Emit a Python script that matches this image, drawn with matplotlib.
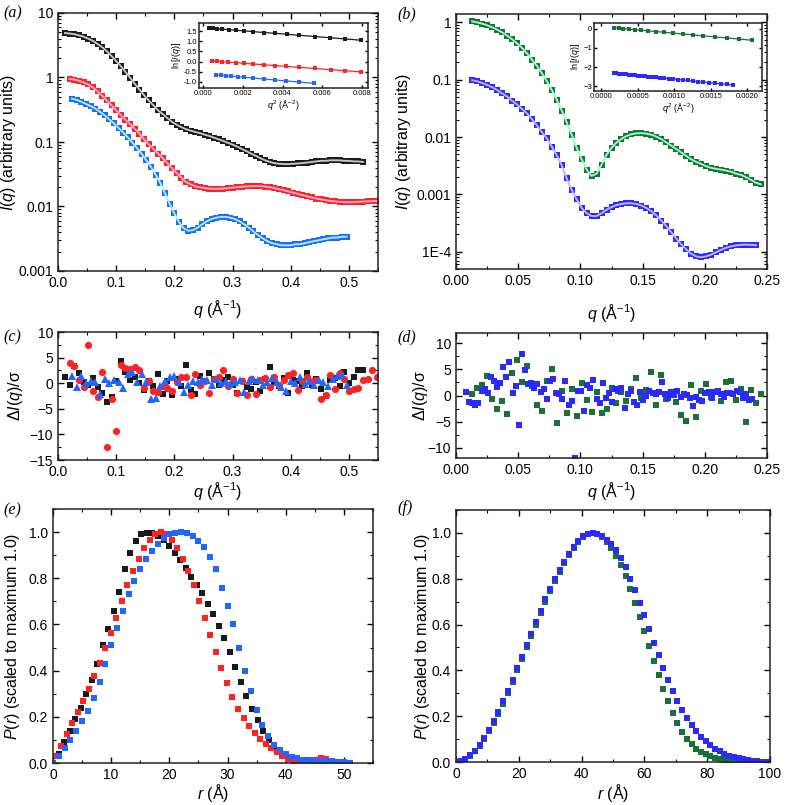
import matplotlib
matplotlib.use('Agg')  # no display
import matplotlib.pyplot as plt
from matplotlib.ticker import FixedLocator, FixedFormatter, MultipleLocator, FormatStrFormatter
import numpy as np

plt.rcParams['font.family'] = ['Liberation Sans', 'DejaVu Sans']
plt.rcParams['mathtext.fontset'] = 'custom'
plt.rcParams['mathtext.rm'] = 'Liberation Sans'
plt.rcParams['mathtext.it'] = 'Liberation Sans:italic'

# ---------------- data ----------------
# (a) scattering curves, q grid start / step (1/A)
qa_black0, qa_red0, qa_blue0, qa_step = 0.012, 0.020, 0.024, 0.008
Ia_black = [4.9, 4.8, 4.7, 4.5, 4.3, 4.0, 3.7, 3.3, 2.95, 2.55, 2.15, 1.8, 1.5, 1.22, 0.99,
            0.80, 0.65, 0.53, 0.44, 0.37, 0.31, 0.27, 0.235, 0.205, 0.185, 0.17, 0.158, 0.15,
            0.143, 0.137, 0.13, 0.124, 0.117, 0.11, 0.104, 0.097, 0.091, 0.085, 0.078, 0.072,
            0.066, 0.061, 0.056, 0.052, 0.049, 0.047, 0.046, 0.0455, 0.0455, 0.046, 0.0465,
            0.047, 0.048, 0.049, 0.050, 0.051, 0.051, 0.052, 0.052, 0.052, 0.051, 0.051, 0.050,
            0.050, 0.049]
Ia_red = [0.95, 0.93, 0.89, 0.84, 0.78, 0.70, 0.61, 0.52, 0.44, 0.37, 0.31, 0.26, 0.22, 0.19,
          0.16, 0.135, 0.11, 0.092, 0.078, 0.066, 0.056, 0.047, 0.039, 0.033, 0.028, 0.024,
          0.022, 0.0205, 0.0198, 0.0193, 0.0189, 0.0188, 0.0188, 0.019, 0.0193, 0.0196, 0.0199,
          0.0202, 0.0205, 0.0207, 0.0208, 0.0207, 0.0204, 0.0199, 0.0193, 0.0186, 0.0179,
          0.0171, 0.0164, 0.0157, 0.015, 0.0144, 0.0138, 0.0133, 0.0129, 0.0125, 0.0122, 0.012,
          0.0118, 0.0117, 0.0117, 0.0117, 0.0118, 0.0119, 0.012, 0.0121, 0.0122]
Ia_blue = [0.47, 0.45, 0.42, 0.39, 0.36, 0.33, 0.295, 0.26, 0.225, 0.195, 0.165, 0.14, 0.118,
           0.098, 0.08, 0.065, 0.052, 0.041, 0.031, 0.023, 0.016, 0.011, 0.0078, 0.0057, 0.0046,
           0.0042, 0.0043, 0.0047, 0.0053, 0.0059, 0.0064, 0.0067, 0.0069, 0.0069, 0.0067,
           0.0064, 0.0059, 0.0053, 0.0047, 0.0041, 0.0036, 0.0032, 0.0029, 0.0027, 0.0026,
           0.0025, 0.0025, 0.0025, 0.0026, 0.0026, 0.0027, 0.0028, 0.0029, 0.003, 0.0031,
           0.0032, 0.0033, 0.0033, 0.0034, 0.0034]

# (a) inset: Guinier plots
ga_black_q2 = [0.00031, 0.00051, 0.00073, 0.00097, 0.00131, 0.00165, 0.00206, 0.00252, 0.00308,
               0.00364, 0.00422, 0.00485, 0.00562, 0.00638, 0.00715, 0.00797]
ga_black_ln = [1.65, 1.635, 1.615, 1.60, 1.57, 1.545, 1.51, 1.475, 1.43, 1.39, 1.345, 1.295,
               1.235, 1.175, 1.115, 1.05]
ga_red_q2 = [0.00046, 0.00071, 0.00097, 0.00128, 0.00165, 0.00204, 0.00252, 0.00308, 0.00363,
             0.0042, 0.00485, 0.00562, 0.00642, 0.00712, 0.00797]
ga_red_ln = [0.03, 0.012, -0.007, -0.029, -0.055, -0.083, -0.117, -0.157, -0.197, -0.238,
             -0.284, -0.339, -0.397, -0.447, -0.508]
ga_blue_q2 = [0.00063, 0.00089, 0.00114, 0.0014, 0.00174, 0.00208, 0.00252, 0.00308, 0.00363,
              0.0042, 0.00485, 0.00558]
ga_blue_ln = [-0.65, -0.672, -0.693, -0.715, -0.744, -0.773, -0.81, -0.858, -0.905, -0.953,
              -1.008, -1.07]

# (b) scattering curves
qb0, qb_step = 0.013, 0.004
Ib_green = [1.04, 1.0, 0.95, 0.89, 0.82, 0.75, 0.67, 0.59, 0.51, 0.43, 0.36, 0.29, 0.225, 0.175,
            0.13, 0.095, 0.066, 0.045, 0.029, 0.018, 0.011, 0.0065, 0.0041, 0.0027, 0.0021,
            0.0023, 0.0033, 0.0049, 0.0065, 0.008, 0.0093, 0.0104, 0.0112, 0.0116, 0.0117,
            0.0115, 0.011, 0.0102, 0.0092, 0.0081, 0.0071, 0.0062, 0.0054, 0.0047, 0.0041,
            0.0037, 0.0034, 0.0031, 0.0029, 0.0028, 0.0027, 0.0026, 0.0025, 0.0023, 0.0022,
            0.002, 0.0018, 0.0016, 0.0015]
Ib_blue = [0.098, 0.094, 0.088, 0.081, 0.074, 0.066, 0.058, 0.051, 0.043, 0.037, 0.031, 0.026,
           0.0205, 0.016, 0.0122, 0.0095, 0.0068, 0.0048, 0.0032, 0.0019, 0.0012, 0.00082,
           0.00058, 0.00047, 0.00042, 0.00042, 0.00047, 0.00054, 0.0006, 0.00065, 0.00068,
           0.0007, 0.0007, 0.00068, 0.00064, 0.00058, 0.00051, 0.00043, 0.00035, 0.00028,
           0.00022, 0.00017, 0.000135, 0.00011, 0.000092, 0.000083, 0.00008, 0.000083,
           0.000089, 0.000098, 0.000108, 0.000117, 0.000124, 0.000129, 0.000132, 0.000133,
           0.000132, 0.00013]

# (b) inset
gb_green_q2 = [0.00018, 0.000237, 0.000303, 0.000376, 0.000458, 0.000548, 0.000645, 0.000751,
               0.000864, 0.000986, 0.001116, 0.001253, 0.001399, 0.001552, 0.001714, 0.001884,
               0.002061]
gb_green_ln = [0.05, 0.03, 0.01, -0.02, -0.045, -0.078, -0.11, -0.148, -0.186, -0.228, -0.272,
               -0.32, -0.372, -0.424, -0.478, -0.538, -0.6]
gb_blue_q2 = [0.00018, 0.000207, 0.000237, 0.000269, 0.000303, 0.000339, 0.000376, 0.000416,
              0.000458, 0.000502, 0.000548, 0.000595, 0.000645, 0.000697, 0.000751, 0.000807,
              0.000864, 0.000924, 0.000986, 0.00105, 0.001116, 0.001183, 0.001253, 0.001325,
              0.001399, 0.001475, 0.001552, 0.001632, 0.001714, 0.001798]
gb_blue_ln = [-2.32, -2.33, -2.342, -2.354, -2.367, -2.38, -2.395, -2.41, -2.426, -2.442, -2.46,
              -2.478, -2.497, -2.516, -2.537, -2.558, -2.58, -2.603, -2.626, -2.651, -2.676,
              -2.701, -2.728, -2.755, -2.783, -2.812, -2.841, -2.872, -2.903, -2.935]

# (c) residuals for (a)
Rc_black = [1.3, -0.4, 3.3, 2.0, 0.2, -0.3, 1.0, -0.8, -1.9, -3.6, -2.6, 0.5, 4.4, 2.1, 0.6,
            1.2, 0.1, -1.3, 0.5, -0.6, 1.8, -2.2, 0.4, -2.4, 0.9, -0.5, 3.6, -1.4, -2.2, 1.5,
            0.4, 1.9, 0.8, -0.3, 0.6, 1.2, -0.4, -1.9, 0.5, -0.7, -1.1, 0.3, -1.6, 0.9, 3.1, 0.2,
            -0.5, 1.0, -2.0, 0.7, 0.4, -0.6, 2.0, -0.3, 0.9, -1.2, -2.5, 0.6, 1.1, -0.5, 2.2,
            0.1, 1.3, 2.5, 2.6]
Rc_red = [4.0, 3.4, 0.6, -0.8, 7.5, -1.5, -2.6, 2.1, -12.5, -3.0, -9.4, 3.5, 2.9, 2.7, 3.2,
          2.5, -1.0, 0.5, -1.5, -1.8, -0.6, -1.0, -1.5, 0.3, 1.3, 1.2, -2.3, 1.7, -0.3, 0.5,
          -1.9, 0.8, 1.2, 2.5, -0.5, 0.9, -1.9, 0.4, -2.3, 0.8, -2.2, 0.6, 1.0, -0.8, 1.2, -0.4,
          0.7, 1.6, 1.9, -1.3, 0.5, 1.3, 0.4, 0.7, -3.0, -2.4, 1.6, -1.1, 2.0, 0.9, -1.5, -1.2,
          -1.0, 0.6, 0.9, 2.6, 1.3]
Rc_blue = [1.5, -0.7, 1.4, 0.1, 0.4, 0.2, -2.1, 0.9, 0.0, 0.7, 0.3, -0.9, 1.8, 2.1, 0.3, 1.7,
           0.2, -3.1, -2.8, -0.5, 0.4, 1.2, 1.5, 0.3, -1.7, -0.4, 0.5, 0.2, 0.8, 0.6, -0.3, 0.9,
           0.1, 0.4, -0.2, 0.3, 0.7, -1.7, 0.5, 0.9, 0.6, -0.4, 0.2, 1.0, 0.3, -0.8, -1.6, 0.4,
           0.1, 1.3, -0.2, 0.5, -0.3, 0.6, 0.2, -0.5, 0.9, 1.5, 1.6, -0.4]

# (d) residuals for (b)
qd_blue0, qd_blue_step = 0.008, 0.0025
Rd_green = [0.3, 1.5, 2.1, 3.8, -0.6, -2.5, -1.0, -3.6, 4.3, 6.9, 2.5, 5.7, 1.8, -1.9, -3.0,
            2.8, 5.0, -5.3, 0.9, -3.4, 1.2, -4.0, 2.4, -0.9, -3.1, 0.6, -3.3, -2.5, 1.4, -1.5,
            0.6, -1.0, 1.2, 3.3, -0.4, 1.0, 4.6, -1.9, 3.9, -0.7, 0.4, -1.2, -3.8, -4.8, 2.0,
            -4.2, 0.9, 2.3, -0.3, 0.6, -1.0, 2.5, 2.8, -0.8, 1.3, -5.1, 1.0, -1.5, 0.3]
Rd_blue = [0.7, -1.3, -1.5, -1.8, -1.4, 0.8, 1.2, 0.4, 3.5, 2.8, 1.6, 2.4, 5.4, 3.6, 6.5, 0.5,
           1.8, -5.6, 8.0, 4.9, 2.3, 2.4, 1.5, 2.3, 0.6, 1.3, -0.6, 2.7, 3.2, 0.4, 0.2, -0.7,
           2.7, -1.8, -1.0, -12.0, 0.9, 0.8, -3.0, 2.0, 1.4, 2.9, -0.6, -1.5, 2.4, -0.4, 0.4,
           -1.2, 1.3, 0.8, 1.5, -2.4, 0.3, 0.9, -1.2, -1.9, 0.6, -0.9, 0.0, 0.9, 0.5, 0.2, 0.6,
           2.5, 0.2, -0.5, 0.7, 0.1, 0.8, -0.2, 0.3, 0.1, -0.5, -2.0, -0.2, -0.9, -1.0, 0.5,
           0.7, -0.4, 0.6, 0.8, 0.3, -0.3, 0.4, 0.5, 0.3, 0.9, 0.7, -0.5, 0.2, -0.8, -0.6]

# (e) P(r), r grid start / step (A)
re_black0, re_red0, re_blue0 = 0.0, 0.45, 0.0
re_step_br, re_step_blue = 0.95, 1.0
Pe_black = [0.0, 0.04, 0.09, 0.14, 0.19, 0.24, 0.30, 0.36, 0.43, 0.51, 0.58, 0.66, 0.74, 0.84,
            0.91, 0.96, 0.99, 0.998, 0.998, 0.985, 0.965, 0.94, 0.91, 0.88, 0.845, 0.805, 0.77,
            0.735, 0.69, 0.645, 0.595, 0.54, 0.48, 0.415, 0.35, 0.29, 0.235, 0.185, 0.14, 0.10,
            0.07, 0.048, 0.032, 0.02, 0.013, 0.009, 0.006, 0.005, 0.004, 0.003, 0.002, 0.001,
            0.0]
Pe_red = [0.03, 0.075, 0.125, 0.175, 0.22, 0.27, 0.32, 0.375, 0.435, 0.50, 0.565, 0.63, 0.70,
          0.77, 0.83, 0.885, 0.93, 0.965, 0.99, 1.0, 0.99, 0.965, 0.93, 0.885, 0.83, 0.77, 0.70,
          0.63, 0.555, 0.48, 0.41, 0.345, 0.285, 0.235, 0.195, 0.16, 0.13, 0.105, 0.083, 0.063,
          0.046, 0.031, 0.019, 0.01, 0.005, 0.004, 0.008, 0.015, 0.02, 0.018, 0.008]
Pe_blue = [0.0, 0.03, 0.065, 0.10, 0.14, 0.18, 0.225, 0.28, 0.35, 0.43, 0.51, 0.585, 0.66, 0.73,
           0.79, 0.84, 0.885, 0.92, 0.95, 0.975, 0.99, 0.998, 1.0, 0.998, 0.985, 0.96, 0.935,
           0.89, 0.84, 0.76, 0.68, 0.60, 0.50, 0.40, 0.31, 0.23, 0.165, 0.115, 0.08, 0.055,
           0.038, 0.027, 0.02, 0.015, 0.012, 0.01, 0.009, 0.008, 0.007, 0.006, 0.004, 0.002]

# (f) P(r)
rf_step = 1.5
Pf_green = [0.0, 0.004, 0.013, 0.027, 0.046, 0.07, 0.10, 0.135, 0.17, 0.21, 0.255, 0.30, 0.35,
            0.40, 0.45, 0.50, 0.55, 0.60, 0.65, 0.70, 0.745, 0.79, 0.83, 0.87, 0.905, 0.935,
            0.96, 0.98, 0.995, 1.0, 0.995, 0.98, 0.96, 0.935, 0.9, 0.86, 0.81, 0.755, 0.695,
            0.635, 0.57, 0.505, 0.44, 0.38, 0.32, 0.265, 0.215, 0.17, 0.13, 0.1, 0.077, 0.058,
            0.044, 0.033, 0.025, 0.018, 0.013, 0.009, 0.006, 0.004, 0.002, 0.001]
Pf_blue = [0.0, 0.005, 0.015, 0.03, 0.05, 0.075, 0.105, 0.14, 0.18, 0.22, 0.265, 0.31, 0.36,
           0.41, 0.46, 0.51, 0.56, 0.61, 0.66, 0.71, 0.755, 0.80, 0.84, 0.875, 0.91, 0.94, 0.965,
           0.985, 0.995, 1.0, 0.995, 0.985, 0.97, 0.95, 0.925, 0.89, 0.85, 0.80, 0.75, 0.695,
           0.64, 0.58, 0.52, 0.465, 0.41, 0.36, 0.31, 0.265, 0.225, 0.19, 0.16, 0.135, 0.11,
           0.09, 0.073, 0.058, 0.046, 0.036, 0.028, 0.021, 0.016, 0.012, 0.009, 0.006, 0.004,
           0.002, 0.001]

# colours
BLACK, RED, BLUE_A = '#1a1a1a', '#ff2222', '#2266ff'
GREEN, BLUE_B = '#1b7038', '#2a2aff'

W, H = 787, 805


def grid(start, step, values):
    """x positions of an evenly sampled series."""
    return start + step * np.arange(len(values))


def box(left, top, right, bottom):
    """Axes rectangle from pixel edges."""
    return [left / W, 1 - bottom / H, (right - left) / W, (bottom - top) / H]


def style(ax, size=10):
    ax.tick_params(which='both', direction='in', top=True, right=True, labelsize=size)
    ax.tick_params(which='major', length=4, width=1)
    ax.tick_params(which='minor', length=2, width=0.8)
    for s in ax.spines.values():
        s.set_linewidth(1.1)
        s.set_color('#222222')


def labels(ax, xlabel, ylabel, xl_y, yl_x, size=11.5):
    # xl_y: top of the x label, yl_x: right edge of the y label (axes fractions)
    ax.set_xlabel(xlabel, fontsize=size)
    ax.set_ylabel(ylabel, fontsize=size)
    ax.xaxis.set_label_coords(0.5, xl_y)
    ax.yaxis.set_label_coords(yl_x, 0.5)


def panel_label(x, y, text):
    fig.text(x / W, 1 - y / H, text, family='Liberation Serif', style='italic',
             fontsize=11.5, va='center', ha='left')


fig = plt.figure(figsize=(7.87, 8.05), dpi=100)
ms = 4.6
q_label = r'$q$ (Å$^{-1}$)'

# ---------- (a) ----------
ax = fig.add_axes(box(58, 13, 378, 271))
for q0, vals, col, fit in [(qa_black0, Ia_black, BLACK, '#c4c4c4'),
                           (qa_red0, Ia_red, RED, '#ffa6d6'),
                           (qa_blue0, Ia_blue, BLUE_A, '#9ff5ff')]:
    q = grid(q0, qa_step, vals)
    ax.plot(q, vals, 's', color=col, ms=ms, mew=0)
    ax.plot(q, vals, '-', color=fit, lw=1.4)
ax.set_yscale('log')
ax.set_xlim(0, 0.55)
ax.set_ylim(1e-3, 10)
ax.yaxis.set_major_locator(FixedLocator([1e-3, 1e-2, 1e-1, 1, 10]))
ax.yaxis.set_major_formatter(FixedFormatter(['0.001', '0.01', '0.1', '1', '10']))
ax.xaxis.set_major_locator(MultipleLocator(0.1))
ax.xaxis.set_minor_locator(MultipleLocator(0.05))
ax.xaxis.set_major_formatter(FormatStrFormatter('%.1f'))
style(ax)
labels(ax, q_label, r'$I$($q$) (arbitrary units)', -0.105, -0.125)

# inset (a)
ins = fig.add_axes(box(199, 23, 368, 88))
for q2, ln, col in [(ga_black_q2, ga_black_ln, BLACK), (ga_red_q2, ga_red_ln, RED),
                    (ga_blue_q2, ga_blue_ln, BLUE_A)]:
    ins.plot(q2, ln, '-', color=col, lw=0.9)
    ins.plot(q2, ln, 's', color=col, ms=2.6, mew=0)
ins.set_xlim(-0.0002, 0.0083)
ins.set_ylim(-1.3, 1.9)
ins.xaxis.set_major_locator(MultipleLocator(0.002))
ins.xaxis.set_major_formatter(FormatStrFormatter('%.3f'))
ins.yaxis.set_major_locator(MultipleLocator(0.5))
ins.yaxis.set_major_formatter(FormatStrFormatter('%.1f'))
style(ins, size=5.5)
ins.tick_params(which='major', length=2, pad=1.5)
ins.set_xlabel(r'$q^2$ (Å$^{-2}$)', fontsize=6.5, labelpad=0.5)
ins.set_ylabel(r'ln[$I$($q$)]', fontsize=6.5, labelpad=0.5)

# ---------- (b) ----------
ax = fig.add_axes(box(456, 14, 767, 269))
for vals, col, fit in [(Ib_green, GREEN, '#95ffc0'), (Ib_blue, BLUE_B, '#c0b4ff')]:
    q = grid(qb0, qb_step, vals)
    ax.plot(q, vals, 's', color=col, ms=ms, mew=0)
    ax.plot(q, vals, '-', color=fit, lw=1.4)
ax.set_yscale('log')
ax.set_xlim(0, 0.25)
ax.set_ylim(5e-5, 1.4)
ax.yaxis.set_major_locator(FixedLocator([1e-4, 1e-3, 1e-2, 1e-1, 1]))
ax.yaxis.set_major_formatter(FixedFormatter(['1E-4', '0.001', '0.01', '0.1', '1']))
ax.xaxis.set_major_locator(MultipleLocator(0.05))
ax.xaxis.set_minor_locator(MultipleLocator(0.025))
ax.xaxis.set_major_formatter(FormatStrFormatter('%.2f'))
style(ax)
labels(ax, q_label, r'$I$($q$) (arbitrary units)', -0.129, -0.138)

# inset (b)
ins = fig.add_axes(box(594, 23, 762, 91))
for q2, ln, col in [(gb_green_q2, gb_green_ln, GREEN), (gb_blue_q2, gb_blue_ln, BLUE_B)]:
    ins.plot(q2, ln, '-', color=col, lw=0.9)
    ins.plot(q2, ln, 's', color=col, ms=2.4, mew=0)
ins.set_xlim(-0.0001, 0.0022)
ins.set_ylim(-3.25, 0.3)
ins.xaxis.set_major_locator(MultipleLocator(0.0005))
ins.xaxis.set_major_formatter(FormatStrFormatter('%.4f'))
ins.yaxis.set_major_locator(MultipleLocator(1))
style(ins, size=5.5)
ins.tick_params(which='major', length=2, pad=1.5)
ins.set_xlabel(r'$q^2$ (Å$^{-2}$)', fontsize=6.5, labelpad=0.5)
ins.set_ylabel(r'ln[$I$($q$)]', fontsize=6.5, labelpad=0.5)

# ---------- (c) ----------
ax = fig.add_axes(box(58, 332, 378, 460))
ax.plot(grid(qa_black0, qa_step, Rc_black), Rc_black, 's', color=BLACK, ms=4.8, mew=0)
ax.plot(grid(qa_red0, qa_step, Rc_red), Rc_red, 'o', color=RED, ms=5.2, mew=0)
ax.plot(grid(qa_blue0, qa_step, Rc_blue), Rc_blue, '^', color=BLUE_A, ms=5.6, mew=0)
ax.set_xlim(0, 0.55)
ax.set_ylim(-15, 10)
ax.xaxis.set_major_locator(MultipleLocator(0.1))
ax.xaxis.set_minor_locator(MultipleLocator(0.05))
ax.xaxis.set_major_formatter(FormatStrFormatter('%.1f'))
ax.yaxis.set_major_locator(MultipleLocator(5))
ax.yaxis.set_minor_locator(MultipleLocator(2.5))
style(ax)
labels(ax, q_label, r'Δ$I$($q$)/σ', -0.156, -0.103)

# ---------- (d) ----------
ax = fig.add_axes(box(456, 333, 767, 458))
ax.plot(grid(qb0, qb_step, Rd_green), Rd_green, 's', color=GREEN, ms=4.6, mew=0)
ax.plot(grid(qd_blue0, qd_blue_step, Rd_blue), Rd_blue, 's', color=BLUE_B, ms=4.6, mew=0)
ax.set_xlim(0, 0.25)
ax.set_ylim(-12, 12)
ax.xaxis.set_major_locator(MultipleLocator(0.05))
ax.xaxis.set_minor_locator(MultipleLocator(0.025))
ax.xaxis.set_major_formatter(FormatStrFormatter('%.2f'))
ax.yaxis.set_major_locator(MultipleLocator(5))
ax.yaxis.set_minor_locator(MultipleLocator(2.5))
style(ax)
labels(ax, q_label, r'Δ$I$($q$)/σ', -0.176, -0.084)

# ---------- (e) ----------
ax = fig.add_axes(box(53, 509, 373, 763))
ax.plot(grid(re_black0, re_step_br, Pe_black), Pe_black, 's', color=BLACK, ms=4.8, mew=0)
ax.plot(grid(re_red0, re_step_br, Pe_red), Pe_red, 's', color=RED, ms=4.8, mew=0)
ax.plot(grid(re_blue0, re_step_blue, Pe_blue), Pe_blue, 's', color=BLUE_A, ms=4.8, mew=0)
ax.set_xlim(0, 55)
ax.set_ylim(0, 1.1)
ax.xaxis.set_major_locator(MultipleLocator(10))
ax.xaxis.set_minor_locator(MultipleLocator(5))
ax.yaxis.set_major_locator(MultipleLocator(0.2))
ax.yaxis.set_minor_locator(MultipleLocator(0.1))
ax.yaxis.set_major_formatter(FormatStrFormatter('%.1f'))
style(ax)
labels(ax, r'$r$ (Å)', r'$P$($r$) (scaled to maximum 1.0)', -0.075, -0.097)

# ---------- (f) ----------
ax = fig.add_axes(box(456, 510, 770, 762))
ax.plot(grid(0, rf_step, Pf_green), Pf_green, 's', color=GREEN, ms=4.8, mew=0)
ax.plot(grid(0, rf_step, Pf_blue), Pf_blue, 's', color=BLUE_B, ms=4.8, mew=0)
ax.set_xlim(0, 100)
ax.set_ylim(0, 1.1)
ax.xaxis.set_major_locator(MultipleLocator(20))
ax.xaxis.set_minor_locator(MultipleLocator(10))
ax.yaxis.set_major_locator(MultipleLocator(0.2))
ax.yaxis.set_minor_locator(MultipleLocator(0.1))
ax.yaxis.set_major_formatter(FormatStrFormatter('%.1f'))
style(ax)
labels(ax, r'$r$ (Å)', r'$P$($r$) (scaled to maximum 1.0)', -0.079, -0.076)

# panel letters
panel_label(3, 13, '(a)')
panel_label(397, 14, '(b)')
panel_label(3, 337, '(c)')
panel_label(397, 337, '(d)')
panel_label(3, 510, '(e)')
panel_label(397, 508, '(f)')

fig.savefig('out.png', dpi=100)
plt.close(fig)
